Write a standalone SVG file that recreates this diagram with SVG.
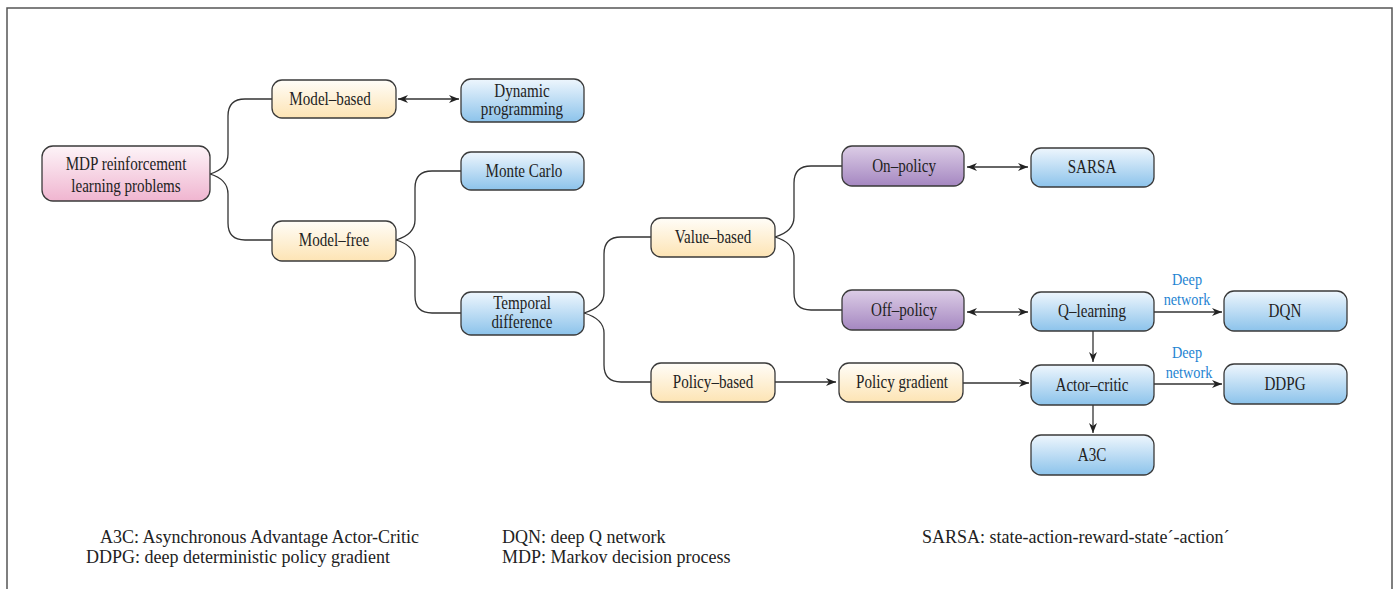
<svg xmlns="http://www.w3.org/2000/svg" width="1400" height="589" viewBox="0 0 1400 589">
  <style>
    .box { stroke: #3a3a3a; stroke-width: 1.3; }
    .lbl { font-family: "Liberation Serif", "DejaVu Serif", serif; font-size: 18px; fill: #222; text-anchor: middle;
           transform-box: fill-box; transform-origin: center; transform: scaleX(0.84); }
    .note { font-family: "Liberation Serif", "DejaVu Serif", serif; font-size: 18px; fill: #222; }
    .blue { font-family: "Liberation Serif", "DejaVu Serif", serif; font-size: 17px; fill: #1f84d2; text-anchor: middle;
            transform-box: fill-box; transform-origin: center; transform: scaleX(0.84); }
    .wire { fill: none; stroke: #333; stroke-width: 1.3; }
  </style>
  <defs>
    <linearGradient id="gYellow" x1="0" y1="0" x2="0" y2="1">
      <stop offset="0" stop-color="#fffdf8"/>
      <stop offset="1" stop-color="#fde4b4"/>
    </linearGradient>
    <linearGradient id="gBlue" x1="0" y1="0" x2="0" y2="1">
      <stop offset="0" stop-color="#eef6fd"/>
      <stop offset="1" stop-color="#8cc3eb"/>
    </linearGradient>
    <linearGradient id="gPurple" x1="0" y1="0" x2="0" y2="1">
      <stop offset="0" stop-color="#dccde6"/>
      <stop offset="1" stop-color="#a587c1"/>
    </linearGradient>
    <linearGradient id="gPink" x1="0" y1="0" x2="0" y2="1">
      <stop offset="0" stop-color="#fdf4f8"/>
      <stop offset="1" stop-color="#f0b5d0"/>
    </linearGradient>
    <marker id="arr" viewBox="0 0 10 8" refX="10" refY="4" markerWidth="10" markerHeight="8" markerUnits="userSpaceOnUse" orient="auto-start-reverse">
      <path d="M0,0 L10,4 L0,8 L3,4 z" fill="#222"/>
    </marker>
  </defs>

  <!-- frame -->
  <path d="M7,589 V8 H1392 V589" fill="none" stroke="#555" stroke-width="1.5"/>

  <!-- connectors -->
  <g id="connectors">
    <!-- MDP branches -->
    <path class="wire" d="M210,174 C220,171 228,166 228,154 V116 Q228,99 245,99 H272"/>
    <path class="wire" d="M210,174 C220,177 228,182 228,194 V223 Q228,240 245,240 H272"/>
    <!-- Model-free branches -->
    <path class="wire" d="M396,240 C406,237 415,232 415,220 V188 Q415,171 432,171 H461"/>
    <path class="wire" d="M396,240 C406,243 415,248 415,260 V296 Q415,313 432,313 H461"/>
    <!-- Temporal difference branches -->
    <path class="wire" d="M584,313 C594,310 604,305 604,293 V254 Q604,237 621,237 H651"/>
    <path class="wire" d="M584,313 C594,316 604,321 604,333 V365 Q604,382 621,382 H651"/>
    <!-- Value-based branches -->
    <path class="wire" d="M775,237 C785,234 794,229 794,217 V183 Q794,166 811,166 H842"/>
    <path class="wire" d="M775,237 C785,240 794,245 794,257 V293 Q794,310 811,310 H842"/>
    <!-- two-way links -->
    <path class="wire" d="M398,99 H459" marker-start="url(#arr)" marker-end="url(#arr)"/>
    <path class="wire" d="M967,167 H1028" marker-start="url(#arr)" marker-end="url(#arr)"/>
    <path class="wire" d="M967,312 H1028" marker-start="url(#arr)" marker-end="url(#arr)"/>
    <!-- one-way links -->
    <path class="wire" d="M1154,312 H1222" marker-end="url(#arr)"/>
    <path class="wire" d="M1093,331 V362" marker-end="url(#arr)"/>
    <path class="wire" d="M775,382 H836" marker-end="url(#arr)"/>
    <path class="wire" d="M963,383 H1029" marker-end="url(#arr)"/>
    <path class="wire" d="M1154,384 H1222" marker-end="url(#arr)"/>
    <path class="wire" d="M1093,405 V433" marker-end="url(#arr)"/>
    <!-- edge labels -->
    <text class="blue" x="1187" y="285">Deep</text>
    <text class="blue" x="1187" y="305">network</text>
    <text class="blue" x="1187" y="358">Deep</text>
    <text class="blue" x="1189" y="378">network</text>
  </g>

  <!-- nodes -->
  <g id="mdp">
    <rect class="box" x="42" y="146" width="168" height="55" rx="11" fill="url(#gPink)"/>
    <text class="lbl" x="126" y="170">MDP reinforcement</text>
    <text class="lbl" x="126" y="192">learning problems</text>
  </g>
  <g id="model-based">
    <rect class="box" x="272" y="80" width="124" height="38" rx="10" fill="url(#gYellow)"/>
    <text class="lbl" x="330" y="105">Model–based</text>
  </g>
  <g id="dynamic-programming">
    <rect class="box" x="461" y="79" width="123" height="43" rx="10" fill="url(#gBlue)"/>
    <text class="lbl" x="522" y="97">Dynamic</text>
    <text class="lbl" x="522" y="115">programming</text>
  </g>
  <g id="monte-carlo">
    <rect class="box" x="461" y="152" width="123" height="38" rx="10" fill="url(#gBlue)"/>
    <text class="lbl" x="524" y="177">Monte Carlo</text>
  </g>
  <g id="model-free">
    <rect class="box" x="272" y="221" width="124" height="40" rx="10" fill="url(#gYellow)"/>
    <text class="lbl" x="334" y="246">Model–free</text>
  </g>
  <g id="temporal-difference">
    <rect class="box" x="461" y="292" width="123" height="43" rx="10" fill="url(#gBlue)"/>
    <text class="lbl" x="522" y="309">Temporal</text>
    <text class="lbl" x="522" y="328">difference</text>
  </g>
  <g id="value-based">
    <rect class="box" x="651" y="218" width="124" height="39" rx="10" fill="url(#gYellow)"/>
    <text class="lbl" x="713" y="243">Value–based</text>
  </g>
  <g id="policy-based">
    <rect class="box" x="651" y="363" width="124" height="39" rx="10" fill="url(#gYellow)"/>
    <text class="lbl" x="713" y="388">Policy–based</text>
  </g>
  <g id="on-policy">
    <rect class="box" x="842" y="146" width="122" height="40" rx="10" fill="url(#gPurple)"/>
    <text class="lbl" x="904" y="172">On–policy</text>
  </g>
  <g id="sarsa">
    <rect class="box" x="1031" y="148" width="123" height="39" rx="10" fill="url(#gBlue)"/>
    <text class="lbl" x="1092" y="173">SARSA</text>
  </g>
  <g id="off-policy">
    <rect class="box" x="842" y="290" width="122" height="40" rx="10" fill="url(#gPurple)"/>
    <text class="lbl" x="904" y="316">Off–policy</text>
  </g>
  <g id="q-learning">
    <rect class="box" x="1031" y="292" width="123" height="39" rx="10" fill="url(#gBlue)"/>
    <text class="lbl" x="1092" y="317">Q–learning</text>
  </g>
  <g id="dqn">
    <rect class="box" x="1224" y="291" width="123" height="40" rx="10" fill="url(#gBlue)"/>
    <text class="lbl" x="1285" y="317">DQN</text>
  </g>
  <g id="policy-gradient">
    <rect class="box" x="839" y="363" width="124" height="39" rx="10" fill="url(#gYellow)"/>
    <text class="lbl" x="902" y="388">Policy gradient</text>
  </g>
  <g id="actor-critic">
    <rect class="box" x="1031" y="365" width="123" height="40" rx="10" fill="url(#gBlue)"/>
    <text class="lbl" x="1092" y="391">Actor–critic</text>
  </g>
  <g id="ddpg">
    <rect class="box" x="1224" y="364" width="123" height="40" rx="10" fill="url(#gBlue)"/>
    <text class="lbl" x="1285" y="390">DDPG</text>
  </g>
  <g id="a3c">
    <rect class="box" x="1031" y="435" width="123" height="40" rx="10" fill="url(#gBlue)"/>
    <text class="lbl" x="1092" y="461">A3C</text>
  </g>

  <!-- abbreviations -->
  <g id="legend">
    <text class="note" x="100" y="543">A3C: Asynchronous Advantage Actor-Critic</text>
    <text class="note" x="86" y="563">DDPG: deep deterministic policy gradient</text>
    <text class="note" x="502" y="543">DQN: deep Q network</text>
    <text class="note" x="502" y="563">MDP: Markov decision process</text>
    <text class="note" x="922" y="543">SARSA: state-action-reward-state´-action´</text>
  </g>
</svg>
